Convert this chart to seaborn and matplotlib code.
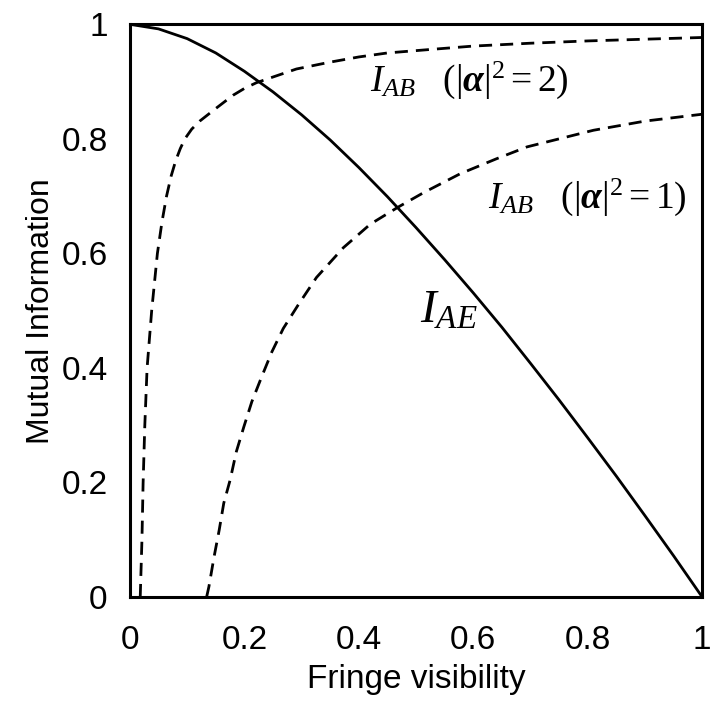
import numpy as np
import pandas as pd
import matplotlib
matplotlib.use("Agg")
import matplotlib.pyplot as plt
import seaborn as sns
from matplotlib.ticker import MultipleLocator

# --- data ---
# I_AE (solid)
v_ae = [0.0, 0.05, 0.10, 0.15, 0.20, 0.25, 0.30, 0.35, 0.40, 0.45, 0.50,
        0.55, 0.60, 0.65, 0.70, 0.75, 0.80, 0.85, 0.90, 0.95, 1.0]
i_ae = [1.0, 0.992, 0.975, 0.950, 0.918, 0.882, 0.842, 0.798, 0.750, 0.699, 0.645,
        0.589, 0.531, 0.471, 0.408, 0.344, 0.278, 0.211, 0.142, 0.072, 0.0]

# I_AB, |alpha|^2 = 2 (dashed)
v_ab2 = [0.018, 0.021, 0.023, 0.026, 0.030, 0.038, 0.048, 0.056, 0.064, 0.072, 0.080,
         0.088, 0.096, 0.108, 0.122, 0.150, 0.180, 0.200, 0.221, 0.250, 0.291, 0.350,
         0.400, 0.450, 0.524, 0.600, 0.700, 0.800, 0.900, 1.0]
i_ab2 = [0.0, 0.10, 0.198, 0.30, 0.40, 0.50, 0.60, 0.655, 0.70, 0.735, 0.762,
         0.783, 0.800, 0.817, 0.831, 0.853, 0.876, 0.888, 0.898, 0.908, 0.922, 0.934,
         0.943, 0.950, 0.956, 0.962, 0.967, 0.971, 0.974, 0.977]

# I_AB, |alpha|^2 = 1 (dashed)
v_ab1 = [0.134, 0.138, 0.147, 0.156, 0.164, 0.175, 0.186, 0.199, 0.213, 0.230, 0.248,
         0.268, 0.294, 0.326, 0.373, 0.420, 0.469, 0.513, 0.577, 0.640, 0.694, 0.750,
         0.810, 0.900, 1.0]
i_ab1 = [0.0, 0.018, 0.070, 0.117, 0.164, 0.204, 0.254, 0.297, 0.341, 0.384, 0.428,
         0.469, 0.510, 0.558, 0.610, 0.651, 0.681, 0.706, 0.739, 0.765, 0.786, 0.800,
         0.815, 0.831, 0.843]

x_ticks = [0, 0.2, 0.4, 0.6, 0.8, 1]
x_tick_labels = ["0", "0.2", "0.4", "0.6", "0.8", "1"]
y_ticks = [0, 0.2, 0.4, 0.6, 0.8, 1]
y_tick_labels = ["0", "0.2", "0.4", "0.6", "0.8", "1"]

# --- style ---
sns.set_style("white")
plt.rcParams["font.family"] = ["Liberation Sans", "DejaVu Sans"]
plt.rcParams["text.color"] = "black"
plt.rcParams["axes.labelcolor"] = "black"
plt.rcParams["xtick.color"] = "black"
plt.rcParams["ytick.color"] = "black"
# Times-like maths for the curve labels
plt.rcParams["mathtext.fontset"] = "custom"
plt.rcParams["mathtext.rm"] = "Liberation Serif"
plt.rcParams["mathtext.it"] = "Liberation Serif:italic"
plt.rcParams["mathtext.bf"] = "Liberation Serif:bold:italic"

fig = plt.figure(figsize=(7.1, 7.15), dpi=100)
ax = fig.add_axes([0.183, 0.165, 0.806, 0.801])

lw = 2.0
sns.lineplot(x=v_ae, y=i_ae, ax=ax, color="black", linewidth=lw,
             estimator=None, sort=False)
sns.lineplot(x=v_ab2, y=i_ab2, ax=ax, color="black", linewidth=lw,
             estimator=None, sort=False)
sns.lineplot(x=v_ab1, y=i_ab1, ax=ax, color="black", linewidth=lw,
             estimator=None, sort=False)
# the two I_AB curves are dashed
ax.lines[1].set_dashes((4.7, 2.9))
ax.lines[2].set_dashes((4.7, 2.9))

ax.set_xlim(0, 1)
ax.set_ylim(0, 1)
ax.set_xticks(x_ticks)
ax.set_xticklabels(x_tick_labels)
ax.set_yticks(y_ticks)
ax.set_yticklabels(y_tick_labels)
ax.xaxis.set_minor_locator(MultipleLocator(0.1))
ax.yaxis.set_minor_locator(MultipleLocator(0.1))

ax.tick_params(which="major", direction="in", length=16, width=1.1,
               labelsize=24, color="black", labelcolor="black")
ax.tick_params(axis="x", which="major", pad=20)
ax.tick_params(axis="y", which="major", pad=16)
ax.tick_params(which="minor", direction="in", length=8, width=1.1, color="black")

for s in ax.spines.values():
    s.set_linewidth(2.2)
    s.set_color("black")

ax.set_xlabel("Fringe visibility", fontsize=24, labelpad=6, color="black")
ax.set_ylabel("Mutual Information", fontsize=23, labelpad=4, color="black")

# curve labels
ax.text(0.42, 0.902, r"$I_{AB}\ \ \ (|\mathbf{\alpha}|^2 = 2)$",
        fontsize=27, va="center", ha="left", color="black")
ax.text(0.626, 0.698, r"$I_{AB}\ \ \ (|\mathbf{\alpha}|^2 = 1)$",
        fontsize=27, va="center", ha="left", color="black")
ax.text(0.507, 0.50, r"$I_{AE}$", fontsize=34, va="center", ha="left",
        color="black")

fig.savefig("out.png", dpi=100)
